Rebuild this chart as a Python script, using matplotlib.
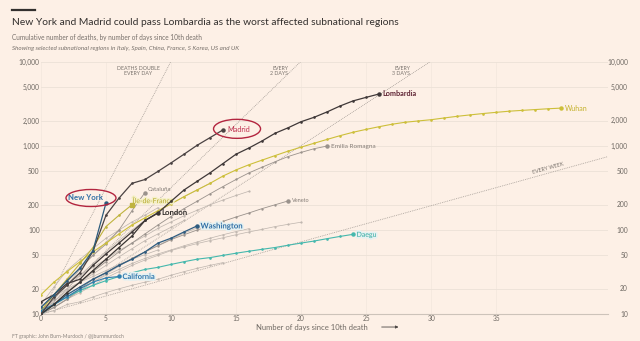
import matplotlib
matplotlib.use("Agg")
import matplotlib.pyplot as plt
import numpy as np
from matplotlib import patheffects as pe
from matplotlib import transforms
from matplotlib.lines import Line2D
from matplotlib.patches import Ellipse, FancyArrowPatch

# ---------------- data (cumulative deaths, day 0 = 10th death) ----------------
lombardia = [14, 17, 23, 26, 38, 52, 70, 95, 130, 160, 220, 300, 380, 480, 620, 800,
             950, 1150, 1420, 1650, 1950, 2200, 2550, 3000, 3450, 3800, 4170]
wuhan = [17, 24, 32, 42, 55, 70, 90, 115, 140, 170, 205, 250, 300, 360, 440, 520, 600,
         680, 770, 870, 970, 1080, 1200, 1330, 1460, 1580, 1700, 1820, 1920, 1990, 2060,
         2160, 2260, 2350, 2440, 2520, 2600, 2660, 2720, 2780, 2830]
emilia = [10, 13, 18, 24, 32, 42, 55, 70, 90, 115, 145, 180, 220, 270, 330, 400, 480,
          560, 650, 750, 840, 930, 1000]
madrid = [10, 16, 22, 31, 56, 150, 240, 360, 400, 500, 630, 800, 1020, 1260, 1560]
new_york = [12, 17, 25, 35, 57, 210]
london = [10, 13, 18, 24, 33, 45, 62, 85, 130, 160]
ile_de_france = [11, 17, 26, 40, 62, 110, 150, 200]
washington = [10, 13, 17, 21, 26, 31, 38, 45, 55, 70, 80, 95, 112]
california = [11, 13, 16, 20, 24, 27, 28]
daegu = [10, 13, 16, 19, 22, 25, 28, 31, 34, 36, 39, 42, 45, 47, 50, 53, 56, 59, 62,
         66, 70, 74, 79, 84, 89]
veneto = [10, 12, 15, 20, 26, 31, 38, 46, 55, 65, 77, 88, 100, 113, 127, 143, 160,
          180, 200, 222]
cataluna = [11, 15, 24, 36, 50, 68, 100, 170, 280]

other_regions = [
    [10, 14, 20, 29, 40, 55, 75, 100, 130, 165, 205, 250, 300, 360],
    [12, 17, 23, 29, 36, 45, 57, 70, 85, 105, 125, 148, 172, 200, 228, 258, 290],
    [10, 12, 15, 19, 24, 30, 37, 46, 55, 66, 78, 92, 106, 120],
    [10, 12, 15, 19, 24, 29, 34, 40, 46, 52, 58, 65, 72, 80, 88, 96, 104],
    [13, 21, 33, 45, 60, 80, 100, 125, 150, 185],
    [10, 14, 19, 24, 28, 33, 39, 45, 51, 58],
    [10, 12, 15, 18, 22, 27, 32, 38, 44, 50, 57, 63, 69, 75, 81, 88, 95, 102, 110, 117, 124],
    [10, 11, 13, 14, 16, 18, 20, 22, 24, 26, 29, 32, 35, 38, 41],
    [10, 15, 22, 34, 50, 72, 98],
    [12, 16, 20, 24, 30, 38, 48, 60, 75, 90, 108, 130],
]

y_ticks = [10, 20, 50, 100, 200, 500, 1000, 2000, 5000, 10000]
y_tick_labels = ["10", "20", "50", "100", "200", "500", "1,000", "2,000", "5,000", "10,000"]
x_ticks = [0, 5, 10, 15, 20, 25, 30, 35]
guide_periods = [1, 2, 3, 7]

title = "New York and Madrid could pass Lombardia as the worst affected subnational regions"
subtitle1 = "Cumulative number of deaths, by number of days since 10th death"
subtitle2 = "Showing selected subnational regions in Italy, Spain, China, France, S Korea, US and UK"
source = "FT graphic: John Burn-Murdoch / @jburnmurdoch"

# ---------------- style ----------------
BG = "#fdf0e6"
GRID = "#ece1d7"
TXT = "#33302e"
TICK = "#6f6963"
GREY = "#bdb4ad"
GUIDE = "#a39b95"

plt.rcParams["font.family"] = ["Lato", "DejaVu Sans"]

fig = plt.figure(figsize=(6.4, 3.41), dpi=100)
fig.patch.set_facecolor(BG)
ax = fig.add_axes([0.064, 0.079, 0.886, 0.739])
ax.set_facecolor(BG)
ax.set_yscale("log")
ax.set_xlim(0, 43.6)
ax.set_ylim(10, 10000)

for s in ["top", "right", "left"]:
    ax.spines[s].set_visible(False)
ax.spines["bottom"].set_color("#cdc3ba")
ax.spines["bottom"].set_linewidth(0.8)

ax.set_yticks(y_ticks)
ax.set_yticklabels(y_tick_labels)
ax.yaxis.set_minor_locator(matplotlib.ticker.NullLocator())
ax.set_xticks(x_ticks)
ax.tick_params(axis="both", length=0, labelsize=4.8, colors=TICK)
ax.tick_params(axis="y", pad=1)
ax.tick_params(axis="x", pad=0.5)
ax.grid(True, axis="y", color=GRID, lw=0.6)
ax.grid(True, axis="x", color="#f4e8de", lw=0.6)
ax.set_axisbelow(True)

# right-hand tick labels
for v, lab in zip(y_ticks, y_tick_labels):
    ax.text(1.035, v, lab, transform=ax.get_yaxis_transform(), ha="right", va="center",
            fontsize=4.8, color=TICK)

# doubling guides
xg = np.linspace(0, 43.6, 300)
for p in guide_periods:
    ax.plot(xg, 10 * 2 ** (xg / p), ls=(0, (1, 1.2)), lw=0.6, color=GUIDE, zorder=1)

gkw = dict(fontsize=3.8, color="#7a736d", linespacing=0.95)
ax.text(7.5, 7800, "DEATHS DOUBLE\nEVERY DAY", ha="center", va="center", **gkw)
ax.text(19.0, 7800, "EVERY\n2 DAYS", ha="right", va="center", **gkw)
ax.text(28.4, 7800, "EVERY\n3 DAYS", ha="right", va="center", **gkw)
ax.text(39.0, 540, "EVERY WEEK", ha="center", va="center", rotation=15.5, **gkw)

# background regions
for series in other_regions:
    ax.plot(range(len(series)), series, color=GREY, lw=0.5, marker="o", ms=0.6, zorder=2)


def draw(series, color, lw=0.8, ms=0.9, end_marker="o", end_ms=2.2, z=3):
    d = list(range(len(series)))
    ax.plot(d, series, color=color, lw=lw, marker="o", ms=ms, zorder=z)
    ax.plot(d[-1], series[-1], marker=end_marker, ms=end_ms, color=color, zorder=z + 1)
    return d[-1], series[-1]


def oval(x, y, dx_px, dy_px, w_px, h_px):
    trans = fig.dpi_scale_trans + transforms.ScaledTranslation(x, y, ax.transData)
    e = Ellipse((dx_px / 100, dy_px / 100), w_px / 100, h_px / 100, transform=trans,
                fc="none", ec="#b3253f", lw=1.0, zorder=6, clip_on=False)
    ax.add_artist(e)


halo = [pe.withStroke(linewidth=2.4, foreground="#e6f1f1")]

# grey labelled regions
x, y = draw(emilia, "#9a928c", lw=0.6, ms=0.7)
ax.annotate("Emilia Romagna", (x, y), xytext=(2.5, 0), textcoords="offset points",
            fontsize=4.6, color="#857d77", va="center")
x, y = draw(veneto, "#9a928c", lw=0.6, ms=0.7)
ax.annotate("Veneto", (x, y), xytext=(2.5, 0), textcoords="offset points",
            fontsize=4.0, color="#857d77", va="center")
x, y = draw(cataluna, "#9a928c", lw=0.6, ms=0.7)
ax.annotate("Cataluña", (x, y), xytext=(2, 2), textcoords="offset points",
            fontsize=4.4, color="#857d77", va="center")

# coloured regions
x, y = draw(wuhan, "#cdbf3a", lw=0.8)
ax.annotate("Wuhan", (x, y), xytext=(2.5, 0), textcoords="offset points",
            fontsize=5.0, color="#c4b12a", va="center")
x, y = draw(ile_de_france, "#bfb33e", lw=0.8, end_marker="s", end_ms=2.2)
ax.annotate("Île-de-France", (x, y), xytext=(0.5, 3), textcoords="offset points",
            fontsize=5.0, color="#b6a92e", va="center",
            path_effects=[pe.withStroke(linewidth=2, foreground="#f5f0c8")])
x, y = draw(daegu, "#45b8ad", lw=0.8)
ax.annotate("Daegu", (x, y), xytext=(2.5, 0), textcoords="offset points",
            fontsize=5.0, color="#2ea99f", va="center", path_effects=halo)
x, y = draw(california, "#2f7fae", lw=0.8)
ax.annotate("California", (x, y), xytext=(2.5, 0), textcoords="offset points",
            fontsize=5.4, color="#2f76ad", va="center", fontweight="bold", path_effects=halo)
x, y = draw(washington, "#2f5c80", lw=0.9)
ax.annotate("Washington", (x, y), xytext=(2.5, 0), textcoords="offset points",
            fontsize=5.6, color="#2f6ea5", va="center", fontweight="bold", path_effects=halo)
x, y = draw(london, "#3a3533", lw=0.9)
ax.annotate("London", (x, y), xytext=(2.5, 0), textcoords="offset points",
            fontsize=5.6, color="#2f2b29", va="center", fontweight="bold")
x, y = draw(lombardia, "#3f3838", lw=0.9)
ax.annotate("Lombardia", (x, y), xytext=(2.5, 0), textcoords="offset points",
            fontsize=5.2, color="#5e2333", va="center", fontweight="bold")
x, y = draw(madrid, "#4a4242", lw=0.9)
ax.annotate("Madrid", (x, y), xytext=(3.0, 0), textcoords="offset points",
            fontsize=5.2, color="#c0304f", va="center", ha="left", zorder=6)
oval(x, y, 14, 1, 47, 19)
x, y = draw(new_york, "#2c5b7c", lw=0.9)
ax.annotate("New York", (x, y), xytext=(-15, 3.6), textcoords="offset points",
            fontsize=5.6, color="#2f6ea5", va="center", ha="center", fontweight="bold",
            zorder=6)
oval(x, y, -15, 5, 50, 17)

# x axis label with arrow
fig.text(0.400, 0.041, "Number of days since 10th death", fontsize=5.5, color=TICK,
         ha="left", va="center")
fig.add_artist(FancyArrowPatch((0.592, 0.041), (0.627, 0.041),
               transform=fig.transFigure, arrowstyle="-|>", mutation_scale=4,
               color="#4a4542", lw=0.6))

# titles
fig.add_artist(Line2D([12 / 640, 35 / 640], [1 - 10 / 341] * 2, color=TXT, lw=1.6))
fig.text(0.019, 0.934, title, fontsize=7.4, color=TXT, va="center")
fig.text(0.019, 0.890, subtitle1, fontsize=4.7, color="#77706a", va="center")
fig.text(0.019, 0.858, subtitle2, fontsize=4.5, color="#77706a", va="center", style="italic")
fig.text(0.019, 0.014, source, fontsize=3.6, color="#8a837d", va="center")

fig.savefig("out.png", dpi=100, facecolor=BG)
